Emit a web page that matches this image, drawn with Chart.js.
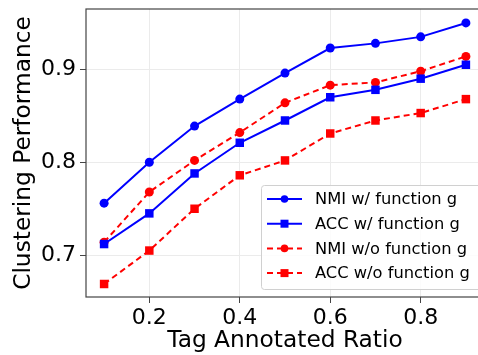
<!DOCTYPE html>
<html>
<head>
<meta charset="utf-8">
<script src="https://cdn.jsdelivr.net/npm/chart.js@4"></script>
<style>
  html, body { margin: 0; padding: 0; background: #fff; overflow: hidden; }
  #wrap { width: 490px; height: 355px; }
</style>
</head>
<body>
<div id="wrap"><canvas id="myChart"></canvas></div>
<script>
// tag annotated ratio on the x axis
const ratios = [0.1, 0.2, 0.3, 0.4, 0.5, 0.6, 0.7, 0.8, 0.9];
const xTicks = [0.2, 0.4, 0.6, 0.8];
const yTicks = [0.7, 0.8, 0.9];

const nmiWith = [0.756, 0.800, 0.839, 0.868, 0.896, 0.923, 0.928, 0.935, 0.950];
const accWith = [0.712, 0.745, 0.788, 0.821, 0.845, 0.870, 0.878, 0.890, 0.905];
const nmiWithout = [0.714, 0.768, 0.802, 0.832, 0.864, 0.883, 0.886, 0.898, 0.914];
const accWithout = [0.669, 0.705, 0.750, 0.786, 0.802, 0.831, 0.845, 0.853, 0.868];

const seriesLabels = ['NMI w/ function g', 'ACC w/ function g', 'NMI w/o function g', 'ACC w/o function g'];

const FONT = "'DejaVu Sans', sans-serif";

function makeSet(label, values, color, style, dashed) {
    return {
        label: label,
        data: values.map((v, i) => ({ x: ratios[i], y: v })),
        borderColor: color,
        backgroundColor: color,
        borderWidth: 2,
        borderDash: dashed ? [6, 4] : [],
        pointStyle: style,
        pointRadius: style === 'rect' ? 6 : 4.5,
        pointBorderWidth: 0,
        tension: 0
    };
}

// frame around plot area + legend box in the lower right
const framePlugin = {
    id: 'frame',
    afterDraw(chart) {
        const c = chart.ctx;
        const a = chart.chartArea;
        c.save();
        c.strokeStyle = '#444';
        c.lineWidth = 1.2;
        c.strokeRect(a.left, a.top, a.right - a.left, a.bottom - a.top);

        // legend
        const bx = 261, by = 185, bw = 230, bh = 104;
        c.fillStyle = 'rgba(255,255,255,0.85)';
        c.strokeStyle = '#d0d0d0';
        c.lineWidth = 1;
        c.beginPath();
        c.roundRect(bx + 0.5, by + 0.5, bw, bh, 3);
        c.fill();
        c.stroke();
        c.font = '16.3px ' + FONT;
        c.textBaseline = 'middle';
        chart.data.datasets.forEach((ds, i) => {
            const y = 199 + i * 24.7;
            c.strokeStyle = ds.borderColor;
            c.lineWidth = 2;
            c.setLineDash(ds.borderDash);
            c.beginPath();
            c.moveTo(267, y);
            c.lineTo(302, y);
            c.stroke();
            c.setLineDash([]);
            c.fillStyle = ds.backgroundColor;
            c.beginPath();
            if (ds.pointStyle === 'rect') {
                c.rect(284.5 - 4, y - 4, 8, 8);
            } else {
                c.arc(284.5, y, 3.8, 0, Math.PI * 2);
            }
            c.fill();
            c.fillStyle = '#000';
            c.fillText(ds.label, 315, y + 1);
        });
        c.restore();
    }
};

const ctx = document.getElementById('myChart').getContext('2d');
const myChart = new Chart(ctx, {
    type: 'line',
    data: {
        datasets: [
            makeSet(seriesLabels[0], nmiWith, '#0000ff', 'circle', false),
            makeSet(seriesLabels[1], accWith, '#0000ff', 'rect', false),
            makeSet(seriesLabels[2], nmiWithout, '#ff0000', 'circle', true),
            makeSet(seriesLabels[3], accWithout, '#ff0000', 'rect', true)
        ]
    },
    options: {
        responsive: true,
        maintainAspectRatio: false,
        animation: false,
        layout: { padding: { top: 9, right: 3, left: 0, bottom: 0 } },
        plugins: {
            legend: { display: false },
            tooltip: { enabled: false }
        },
        scales: {
            x: {
                type: 'linear',
                min: 0.06,
                max: 0.94,
                afterBuildTicks: (axis) => { axis.ticks = xTicks.map(v => ({ value: v })); },
                afterFit: (axis) => { axis.height = 58; axis.paddingLeft = 0; axis.paddingRight = 0; },
                grid: { color: '#ebebeb', tickColor: '#444', tickLength: 6, lineWidth: 1 },
                border: { display: false },
                ticks: {
                    color: '#000',
                    font: { family: FONT, size: 22 },
                    padding: 2,
                    maxRotation: 0,
                    callback: (v) => v.toFixed(1)
                },
                title: {
                    display: true,
                    text: 'Tag Annotated Ratio',
                    color: '#000',
                    font: { family: FONT, size: 23.3 },
                    padding: { top: 0, bottom: 0 }
                }
            },
            y: {
                min: 0.655,
                max: 0.965,
                afterBuildTicks: (axis) => { axis.ticks = yTicks.map(v => ({ value: v })); },
                afterFit: (axis) => { axis.width = 86; axis.paddingTop = 0; axis.paddingBottom = 0; },
                grid: { color: '#ebebeb', tickColor: '#444', tickLength: 6, lineWidth: 1 },
                border: { display: false },
                ticks: {
                    color: '#000',
                    font: { family: FONT, size: 22 },
                    padding: 4,
                    callback: (v) => v.toFixed(1)
                },
                title: {
                    display: true,
                    text: 'Clustering Performance',
                    color: '#000',
                    font: { family: FONT, size: 23.3 },
                    padding: { top: 10, bottom: 2 }
                }
            }
        }
    },
    plugins: [framePlugin]
});
</script>
</body>
</html>
